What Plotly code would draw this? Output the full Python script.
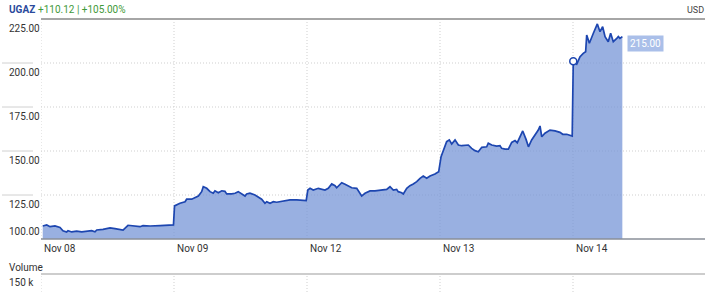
import plotly.graph_objects as go

# Time in trading-day units (0 = Nov 08 open, 1 = Nov 09 open, ...)
t_vals = [
    0.013, 0.043, 0.068, 0.105, 0.143, 0.165, 0.193, 0.203, 0.231, 0.268, 0.306, 0.344, 0.381, 0.406,
    0.419, 0.466, 0.519, 0.556, 0.594, 0.617, 0.654, 0.692, 0.744, 0.767, 0.820, 0.895, 0.970, 0.996,
    1.004, 1.045, 1.083, 1.095, 1.133, 1.158, 1.183, 1.208, 1.220, 1.246, 1.271, 1.295, 1.308, 1.333,
    1.359, 1.383, 1.396, 1.434, 1.459, 1.483, 1.509, 1.534, 1.546, 1.571, 1.609, 1.634, 1.659, 1.684,
    1.697, 1.722, 1.747, 1.772, 1.822, 1.872, 1.923, 1.994,
    2.006, 2.023, 2.047, 2.085, 2.135, 2.160, 2.186, 2.211, 2.223, 2.261, 2.286, 2.311, 2.336, 2.374,
    2.398, 2.411, 2.436, 2.474, 2.511, 2.549, 2.599, 2.624, 2.649, 2.674, 2.686, 2.712, 2.724, 2.750,
    2.774, 2.799, 2.825, 2.850, 2.874, 2.900, 2.925, 2.962, 2.990,
    3.008, 3.025, 3.050, 3.070, 3.088, 3.113, 3.138, 3.163, 3.188, 3.213, 3.238, 3.263, 3.288, 3.314,
    3.351, 3.363, 3.389, 3.426, 3.451, 3.464, 3.489, 3.514, 3.539, 3.564, 3.581, 3.602, 3.622, 3.647,
    3.665, 3.689, 3.714, 3.739, 3.752, 3.765, 3.789, 3.827, 3.865, 3.902, 3.923, 3.953, 3.994,
    4.002, 4.028, 4.053, 4.077, 4.095, 4.103, 4.123, 4.153, 4.183, 4.203, 4.223, 4.241, 4.265, 4.283,
    4.303, 4.329, 4.341, 4.353, 4.371,
]
price_vals = [
    107.4, 108.0, 107.0, 107.4, 106.6, 104.7, 104.0, 104.7, 104.0, 104.5, 104.0, 104.5, 104.7, 104.1,
    105.1, 105.5, 106.3, 105.9, 105.5, 105.1, 107.8, 107.4, 107.0, 107.6, 107.4, 107.6, 107.8, 108.0,
    118.8, 120.3, 121.2, 122.6, 122.6, 123.7, 124.4, 126.9, 129.7, 128.8, 126.9, 126.0, 127.4, 126.3,
    127.4, 127.1, 125.6, 125.6, 126.0, 126.9, 125.6, 124.4, 125.6, 126.0, 125.0, 123.7, 122.6, 120.3,
    121.2, 120.3, 121.2, 120.9, 121.6, 122.2, 122.2, 121.8,
    127.8, 128.8, 127.8, 128.8, 127.8, 128.8, 131.3, 130.3, 129.1, 132.0, 131.1, 130.3, 129.1, 128.8,
    126.3, 124.4, 126.0, 127.3, 127.4, 127.8, 128.2, 129.7, 127.8, 128.2, 126.9, 126.3, 125.6, 128.8,
    130.3, 131.3, 132.6, 134.5, 135.8, 134.5, 135.8, 136.9, 138.2,
    146.8, 150.6, 155.3, 156.3, 154.0, 156.3, 153.4, 153.0, 153.4, 153.4, 151.5, 150.2, 149.6, 152.1,
    152.4, 154.4, 153.4, 152.8, 153.0, 151.5, 151.1, 151.1, 154.9, 155.9, 154.7, 158.1, 161.4, 156.6,
    152.4, 156.3, 159.1, 161.9, 164.2, 158.1, 160.1, 161.9, 161.4, 160.6, 159.5, 159.5, 158.5,
    201.0, 199.4, 203.6, 205.5, 206.4, 215.9, 211.2, 216.9, 222.2, 217.8, 220.6, 215.0, 212.1, 216.9,
    212.1, 214.0, 215.0, 214.0, 215.0,
]

day_ticks = [0, 1, 2, 3, 4]
day_labels = ["Nov 08", "Nov 09", "Nov 12", "Nov 13", "Nov 14"]
price_ticks = [100, 125, 150, 175, 200, 225]
price_labels = ["100.00", "125.00", "150.00", "175.00", "200.00", "225.00"]

symbol = "UGAZ"
change_text = "+110.12 | +105.00%"
currency = "USD"
last_label = "215.00"
marker_t = [4.002]
marker_price = [201.0]

W, H = 720, 292
L, R, T, B = 41, 14, 19, 53
PW, PH = W - L - R, H - T - B


def px_x(px):
    return (px - L) / PW


def px_y(py):
    return (H - B - py) / PH


FONT = "Roboto"
GRID = dict(color="#cfcfcf", width=1, dash="1px,2px")
fig = go.Figure()
fig.add_trace(go.Scatter(
    x=t_vals, y=price_vals, mode="lines",
    line=dict(color="#1d46b0", width=1.7),
    fill="tozeroy", fillcolor="rgba(118,148,214,0.74)",
    hoverinfo="skip", showlegend=False,
))
fig.add_trace(go.Scatter(
    x=marker_t, y=marker_price, mode="markers",
    marker=dict(size=7, color="white", line=dict(color="#1d46b0", width=1.5)),
    hoverinfo="skip", showlegend=False,
))

shapes = []
# horizontal dotted gridlines
for v in price_ticks[1:-1]:
    shapes.append(dict(type="line", xref="paper", yref="y", x0=0, x1=1, y0=v, y1=v,
                       line=GRID, layer="below"))
    shapes.append(dict(type="line", xref="paper", yref="y", x0=px_x(2), x1=px_x(33), y0=v, y1=v,
                       line=dict(color="#d0d0d0", width=1)))
# vertical dotted gridlines in price and volume panes
for d in day_ticks:
    shapes.append(dict(type="line", xref="x", yref="paper", x0=d, x1=d, y0=0, y1=1,
                       line=GRID, layer="below"))
    shapes.append(dict(type="line", xref="x", yref="paper", x0=d, x1=d, y0=px_y(276), y1=px_y(292),
                       line=GRID))
# top rule
shapes.append(dict(type="line", xref="paper", yref="paper", x0=0, x1=px_x(705), y0=1, y1=1,
                   line=dict(color="#a6a6a6", width=2)))
# bottom axis
shapes.append(dict(type="line", xref="paper", yref="paper", x0=0, x1=px_x(705), y0=0, y1=0,
                   line=dict(color="#8a8f99", width=1.5)))
# volume pane rule
shapes.append(dict(type="line", xref="paper", yref="paper", x0=0, x1=px_x(705), y0=px_y(274), y1=px_y(274),
                   line=dict(color="#bdbdbd", width=1.5)))

ann = []
for v, lab in zip(price_ticks, price_labels):
    ann.append(dict(xref="paper", yref="y", x=px_x(7), y=v, text=lab, showarrow=False,
                    xanchor="left", yanchor="bottom" if v == 100 else "top",
                    yshift=0 if v == 100 else -2,
                    font=dict(family=FONT, size=10, color="#333333")))
for d, lab in zip(day_ticks, day_labels):
    ann.append(dict(xref="x", yref="paper", x=d, y=0, text=lab, showarrow=False,
                    xanchor="left", yanchor="top", xshift=1, yshift=-2,
                    font=dict(family=FONT, size=10, color="#333333")))
ann.append(dict(xref="paper", yref="paper", x=px_x(7), y=px_y(10), text="<b>" + symbol + "</b>",
                showarrow=False, xanchor="left", yanchor="middle",
                font=dict(family=FONT, size=10, color="#2a4a9c")))
ann.append(dict(xref="paper", yref="paper", x=px_x(36), y=px_y(10), text=change_text,
                showarrow=False, xanchor="left", yanchor="middle",
                font=dict(family=FONT, size=10, color="#3f9a3a")))
ann.append(dict(xref="paper", yref="paper", x=px_x(706), y=px_y(10), text=currency,
                showarrow=False, xanchor="right", yanchor="middle",
                font=dict(family=FONT, size=9, color="#444444")))
ann.append(dict(xref="paper", yref="paper", x=px_x(7), y=px_y(267), text="Volume",
                showarrow=False, xanchor="left", yanchor="middle",
                font=dict(family=FONT, size=10, color="#333333")))
ann.append(dict(xref="paper", yref="paper", x=px_x(7), y=px_y(282), text="150 k",
                showarrow=False, xanchor="left", yanchor="middle",
                font=dict(family=FONT, size=10, color="#333333")))
ann.append(dict(xref="x", yref="y", x=t_vals[-1], y=price_vals[-1], text=last_label,
                showarrow=False, xanchor="left", yanchor="middle", xshift=5, yshift=-7,
                bgcolor="#aabfe9", borderpad=2,
                font=dict(family=FONT, size=10, color="white")))

fig.update_layout(
    width=W, height=H,
    margin=dict(l=L, r=R, t=T, b=B),
    paper_bgcolor="white", plot_bgcolor="white",
    xaxis=dict(range=[0, 5], showgrid=False, zeroline=False, showticklabels=False,
               showline=False, fixedrange=True),
    yaxis=dict(range=[100, 225], showgrid=False, zeroline=False, showticklabels=False,
               showline=False, fixedrange=True),
    shapes=shapes, annotations=ann,
)
fig.write_html("out.html", config={"displayModeBar": False})
